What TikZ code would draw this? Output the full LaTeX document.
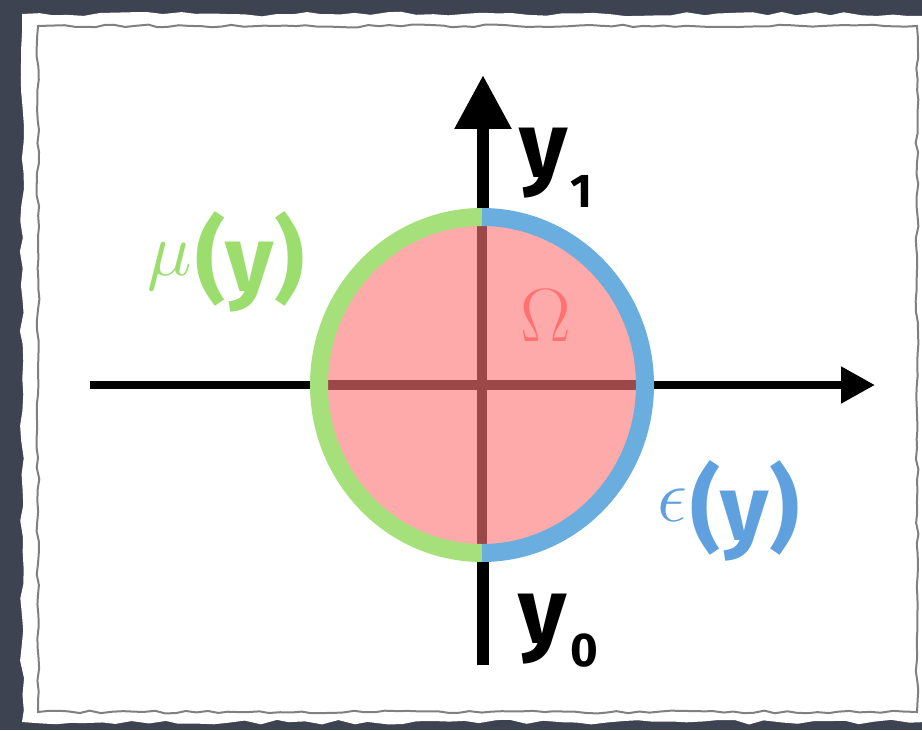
\documentclass[tikz,border=0pt]{standalone}
\usepackage{graphicx}
\usepackage{fontspec}
\newfontfamily\handfont{Fira Sans}
\usetikzlibrary{arrows.meta,decorations.pathmorphing}

\definecolor{slate}{RGB}{62,67,82}
\definecolor{ringgreen}{RGB}{166,224,122}
\definecolor{ringblue}{RGB}{106,174,224}
\definecolor{labgreen}{RGB}{155,222,110}
\definecolor{labblue}{RGB}{95,160,222}
\definecolor{disk}{RGB}{255,170,170}
\definecolor{crossred}{RGB}{156,72,72}
\definecolor{omegared}{RGB}{255,112,112}

\newcommand{\bigsym}[1]{\scalebox{1.73}{\Huge$#1$}}

\begin{document}
\begin{tikzpicture}[
  x=0.02cm, y=-0.02cm,
  vaxis/.style={line width=0.24cm, -{Triangle[length=1.08cm, width=1.08cm]}},
  haxis/.style={line width=0.16cm, -{Triangle[length=0.68cm, width=0.70cm]}},
  ring/.style={line width=0.36cm},
  crossln/.style={crossred, line width=0.21cm},
  hand/.style={font=\handfont\bfseries\fontsize{53}{53}\selectfont, inner sep=0pt},
  handsub/.style={font=\handfont\bfseries\fontsize{27}{27}\selectfont, inner sep=0pt},
  greek/.style={inner sep=0pt},
]
  \pgfmathsetseed{11}
  \useasboundingbox (0,0) rectangle (922,730);
  \fill[slate] (0,0) rectangle (922,730);
  % paper
  \fill[white, decorate, decoration={random steps, segment length=9pt, amplitude=1.4pt}]
    (22,14) rectangle (940,722);
  \draw[gray, line width=0.04cm, decorate,
        decoration={random steps, segment length=6pt, amplitude=0.8pt}]
    (38,26) rectangle (917,712);

  \coordinate (ctr) at (482,385);
  \coordinate (xl) at (90,385);
  \coordinate (xr) at (875,385);
  \coordinate (yb) at (483,665);
  \coordinate (yt) at (483,75);

  \draw[haxis] (xl) -- (xr);
  \draw[vaxis] (yb) -- (yt);

  % domain
  \fill[disk] (ctr) ellipse [x radius=163, y radius=168];
  \draw[crossln] (ctr) ++(-163,0) -- ++(326,0);
  \draw[crossln] (ctr) ++(0,-168) -- ++(0,336);
  \draw[ring, ringgreen] (ctr) ++(0,168) arc[start angle=90, end angle=270, x radius=163, y radius=168];
  \draw[ring, ringblue] (ctr) ++(0,168) arc[start angle=90, end angle=-90, x radius=163, y radius=168];

  \node[greek, omegared] (omega) at (546,316) {\bigsym{\Omega}};

  \node[hand] (ytop) at (544,163) {y};
  \node[handsub] (ytopsub) at (581,191) {1};
  \node[hand] (ybot) at (543,629) {y};
  \node[handsub] (ybotsub) at (584,651) {0};

  \node[greek, labgreen] (mu) at (170,267) {\bigsym{\mu}};
  \node[hand, labgreen] (muarg) at (250,262) {(y)};
  \node[greek, labblue] (eps) at (672,505) {\bigsym{\epsilon}};
  \node[hand, labblue] (epsarg) at (745,511) {(y)};
\end{tikzpicture}
\end{document}
